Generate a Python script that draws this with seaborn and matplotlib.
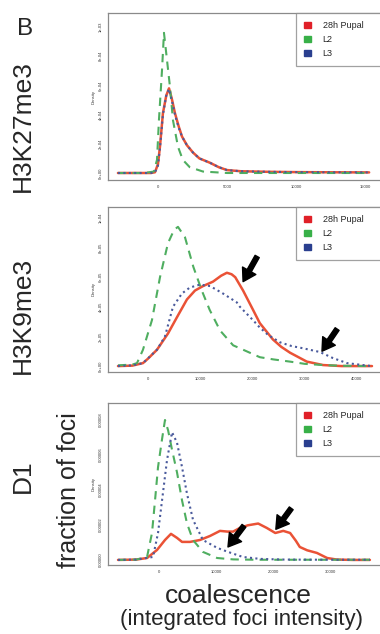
import matplotlib
matplotlib.use("Agg")
import matplotlib.pyplot as plt
from matplotlib.patches import Patch
import pandas as pd
import seaborn as sns

series = ["28h Pupal", "L2", "L3"]

# ---- H3K27me3 : density of integrated foci intensity ----
k27_pupal_x = [-2900, -1500, -500, -220, 0, 145, 360, 600, 800, 1000, 1230, 1500, 1740,
               2100, 2540, 3000, 3770, 4400, 5000, 6000, 8000, 10000, 12000, 15300]
k27_pupal_y = [0, 0, 0, 0.005e-3, 0.06e-3, 0.18e-3, 0.41e-3, 0.53e-3, 0.58e-3, 0.51e-3,
               0.41e-3, 0.32e-3, 0.25e-3, 0.19e-3, 0.14e-3, 0.10e-3, 0.07e-3, 0.04e-3,
               0.02e-3, 0.012e-3, 0.008e-3, 0.006e-3, 0.005e-3, 0.004e-3]
k27_l2_x = [-2900, -1000, -300, -70, 70, 290, 435, 600, 870, 1090, 1450, 1800, 2300,
            3260, 5000, 8000, 12000, 15300]
k27_l2_y = [0, 0, 0.01e-3, 0.09e-3, 0.36e-3, 0.70e-3, 0.96e-3, 0.82e-3, 0.59e-3,
            0.36e-3, 0.18e-3, 0.09e-3, 0.04e-3, 0.01e-3, 0, 0, 0, 0]
k27_l3_x = k27_pupal_x
k27_l3_y = [0, 0, 0, 0.004e-3, 0.05e-3, 0.17e-3, 0.40e-3, 0.53e-3, 0.575e-3, 0.50e-3,
            0.40e-3, 0.31e-3, 0.25e-3, 0.19e-3, 0.14e-3, 0.10e-3, 0.07e-3, 0.04e-3,
            0.02e-3, 0.012e-3, 0.008e-3, 0.006e-3, 0.005e-3, 0.004e-3]
k27_xticks = [0, 5000, 10000, 15000]
k27_yticks = [0, 2e-4, 4e-4, 6e-4, 8e-4, 1e-3]
k27_ylabels = ["0e+00", "2e-04", "4e-04", "6e-04", "8e-04", "1e-03"]

# ---- H3K9me3 ----
k9_pupal_x = [-5740, -3000, -960, 0, 1720, 3830, 5550, 7460, 9000, 10530, 12440, 14000,
              15100, 16000, 16700, 18200, 20100, 21400, 23900, 25500, 27200, 30400,
              33500, 37000, 42870]
k9_pupal_y = [0, 0.003e-4, 0.02e-4, 0.05e-4, 0.11e-4, 0.22e-4, 0.33e-4, 0.45e-4, 0.51e-4,
              0.54e-4, 0.57e-4, 0.61e-4, 0.63e-4, 0.62e-4, 0.60e-4, 0.51e-4, 0.38e-4,
              0.29e-4, 0.18e-4, 0.13e-4, 0.09e-4, 0.03e-4, 0.007e-4, 0, 0]
k9_l2_x = [-5740, -3000, -2100, -960, 760, 2300, 3830, 5000, 5740, 7080, 8680, 10300,
           11800, 13800, 16300, 17600, 19500, 21400, 24000, 27200, 30000, 33500, 37000, 42870]
k9_l2_y = [0.005e-4, 0.01e-4, 0.02e-4, 0.11e-4, 0.31e-4, 0.60e-4, 0.83e-4, 0.92e-4,
           0.94e-4, 0.87e-4, 0.67e-4, 0.51e-4, 0.38e-4, 0.24e-4, 0.14e-4, 0.12e-4,
           0.09e-4, 0.06e-4, 0.045e-4, 0.03e-4, 0.015e-4, 0.007e-4, 0.002e-4, 0]
k9_l3_x = [-5740, -3000, -960, 1720, 3250, 4780, 6500, 8000, 9950, 11900, 14350, 17000,
           17600, 20100, 21400, 23000, 25300, 27500, 29700, 32900, 35400, 38100, 41100, 42870]
k9_l3_y = [0, 0.005e-4, 0.02e-4, 0.11e-4, 0.20e-4, 0.40e-4, 0.49e-4, 0.53e-4, 0.55e-4,
           0.54e-4, 0.49e-4, 0.43e-4, 0.40e-4, 0.31e-4, 0.26e-4, 0.21e-4, 0.16e-4,
           0.135e-4, 0.12e-4, 0.095e-4, 0.054e-4, 0.02e-4, 0.007e-4, 0]
k9_xticks = [0, 10000, 20000, 30000, 40000]
k9_yticks = [0, 2e-5, 4e-5, 6e-5, 8e-5, 1e-4]
k9_ylabels = ["0e+00", "2e-05", "4e-05", "6e-05", "8e-05", "1e-04"]

# ---- D1 ----
d1_pupal_x = [-7190, -4000, -2100, -350, 1050, 2100, 3160, 4040, 5440, 7190, 8950, 10700,
              12000, 13000, 14200, 15600, 17400, 18900, 20400, 21800, 23000, 24000, 24700,
              26000, 27700, 29500, 31200, 34000, 37000]
d1_pupal_y = [0, 0.02e-5, 0.11e-5, 0.57e-5, 1.14e-5, 1.49e-5, 1.26e-5, 1.03e-5, 1.03e-5,
              1.14e-5, 1.37e-5, 1.66e-5, 1.62e-5, 1.62e-5, 1.83e-5, 1.98e-5, 2.08e-5,
              1.83e-5, 1.54e-5, 1.66e-5, 1.54e-5, 1.10e-5, 0.74e-5, 0.55e-5, 0.40e-5,
              0.11e-5, 0.02e-5, 0, 0]
d1_l2_x = [-7190, -4000, -2100, -1230, -700, -175, 530, 1050, 1600, 2280, 3160, 4040,
           4900, 5960, 7700, 10200, 13000, 17000, 25000, 30000, 37000]
d1_l2_y = [0, 0.02e-5, 0.17e-5, 1.54e-5, 3.4e-5, 5.3e-5, 6.9e-5, 8.0e-5, 7.4e-5, 6.3e-5,
           5.0e-5, 3.4e-5, 2.1e-5, 1.14e-5, 0.46e-5, 0.11e-5, 0.03e-5, 0.01e-5, 0.01e-5,
           0.01e-5, 0.01e-5]
d1_l3_x = [-7190, -4000, -1050, -175, 530, 1400, 2280, 3160, 4040, 4900, 5960, 7700,
           10200, 12100, 14700, 17700, 22000, 30000, 37000]
d1_l3_y = [0, 0.02e-5, 0.17e-5, 1.54e-5, 3.4e-5, 5.7e-5, 7.3e-5, 6.7e-5, 5.3e-5, 3.8e-5,
           2.3e-5, 1.14e-5, 0.69e-5, 0.46e-5, 0.17e-5, 0.06e-5, 0.02e-5, 0.01e-5, 0.01e-5]
d1_xticks = [0, 10000, 20000, 30000]
d1_yticks = [0, 2e-5, 4e-5, 6e-5, 8e-5]
d1_ylabels = ["0.00000", "0.00002", "0.00004", "0.00006", "0.00008"]

# ---- styling ----
sns.set_style("white")
plt.rcParams["font.family"] = ["Liberation Sans", "DejaVu Sans"]

line_colors = {"28h Pupal": "#EA5236", "L2": "#4FAE60", "L3": "#4A5A9C"}
line_styles = {"28h Pupal": "-", "L2": (0, (4, 3)), "L3": (0, (1, 1.6))}
line_widths = {"28h Pupal": 1.8, "L2": 1.5, "L3": 1.5}
key_colors = {"28h Pupal": "#E02028", "L2": "#38B048", "L3": "#2A3F8F"}
frame_grey = "#8a8a8a"

W, H = 380, 634
fig = plt.figure(figsize=(W / 100, H / 100), dpi=100)


def panel_axes(x0, y0, x1, y1):
    return fig.add_axes([x0 / W, 1 - y1 / H, (x1 - x0) / W, (y1 - y0) / H])


def draw_panel(ax, curves, xticks, yticks, ylabels, xlim, ylim, arrows):
    for name, (xs, ys) in zip(series, curves):
        df = pd.DataFrame({"x": xs, "y": ys})
        sns.lineplot(data=df, x="x", y="y", ax=ax, estimator=None, sort=True,
                     color=line_colors[name], linestyle=line_styles[name],
                     linewidth=line_widths[name])
    ax.set_xlim(*xlim)
    ax.set_ylim(*ylim)
    ax.set_xticks(xticks)
    ax.set_xticklabels([str(t) for t in xticks], fontsize=3)
    ax.set_yticks(yticks)
    ax.set_yticklabels(ylabels, fontsize=3, rotation=90, va="center")
    ax.tick_params(axis="both", length=2.2, width=0.6, color=frame_grey, pad=1.5,
                   labelcolor="#333333")
    ax.set_xlabel("")
    ax.set_ylabel("Density", fontsize=3, labelpad=2, color="#333333")
    for sp in ax.spines.values():
        sp.set_color(frame_grey)
        sp.set_linewidth(0.9)
    handles = [Patch(facecolor=key_colors[n], edgecolor=key_colors[n], label=n) for n in series]
    leg = ax.legend(handles=handles, loc="upper left", bbox_to_anchor=(0.679, 0, 0.35, 1.0),
                    mode="expand", borderaxespad=0, fontsize=6.5, frameon=True,
                    fancybox=False, handlelength=0.75, handleheight=0.75,
                    handletextpad=1.3, labelspacing=0.55, borderpad=0.9)
    leg.get_frame().set_edgecolor(frame_grey)
    leg.get_frame().set_linewidth(0.9)
    for head, tail in arrows:
        ax.annotate("", xy=head, xytext=tail,
                    arrowprops=dict(facecolor="black", edgecolor="black", width=3.4,
                                    headwidth=11, headlength=9, shrink=0))


ax1 = panel_axes(108, 13, 385, 180)
draw_panel(ax1,
           [(k27_pupal_x, k27_pupal_y), (k27_l2_x, k27_l2_y), (k27_l3_x, k27_l3_y)],
           k27_xticks, k27_yticks, k27_ylabels, (-3620, 16450), (-4.8e-5, 1.096e-3), [])

ax2 = panel_axes(108, 207, 385, 372)
draw_panel(ax2,
           [(k9_pupal_x, k9_pupal_y), (k9_l2_x, k9_l2_y), (k9_l3_x, k9_l3_y)],
           k9_xticks, k9_yticks, k9_ylabels, (-7650, 45360), (-0.04e-4, 1.074e-4),
           [((18200, 0.57e-4), (20900, 0.74e-4)), ((33300, 0.10e-4), (36200, 0.25e-4))])

ax3 = panel_axes(108, 403, 385, 565)
draw_panel(ax3,
           [(d1_pupal_x, d1_pupal_y), (d1_l2_x, d1_l2_y), (d1_l3_x, d1_l3_y)],
           d1_xticks, d1_yticks, d1_ylabels, (-8950, 39650), (-0.29e-5, 8.97e-5),
           [((12100, 0.74e-5), (14900, 1.95e-5)), ((20500, 1.75e-5), (23200, 2.95e-5))])

# row and axis annotations
fig.text(25 / W, 1 - 29 / H, "B", fontsize=17.5, ha="center", va="center")
fig.text(23 / W, 1 - 126 / H, "H3K27me3", fontsize=19, rotation=90, ha="center", va="center")
fig.text(23 / W, 1 - 315 / H, "H3K9me3", fontsize=19, rotation=90, ha="center", va="center")
fig.text(23 / W, 1 - 476 / H, "D1", fontsize=19, rotation=90, ha="center", va="center")
fig.text(69 / W, 1 - 490 / H, "fraction of foci", fontsize=18, rotation=90,
         ha="center", va="center")
fig.text(238 / W, 1 - 596 / H, "coalescence", fontsize=19, ha="center", va="center")
fig.text(242 / W, 1 - 620 / H, "(integrated foci intensity)", fontsize=16,
         ha="center", va="center")

fig.savefig("out.png", dpi=100)
